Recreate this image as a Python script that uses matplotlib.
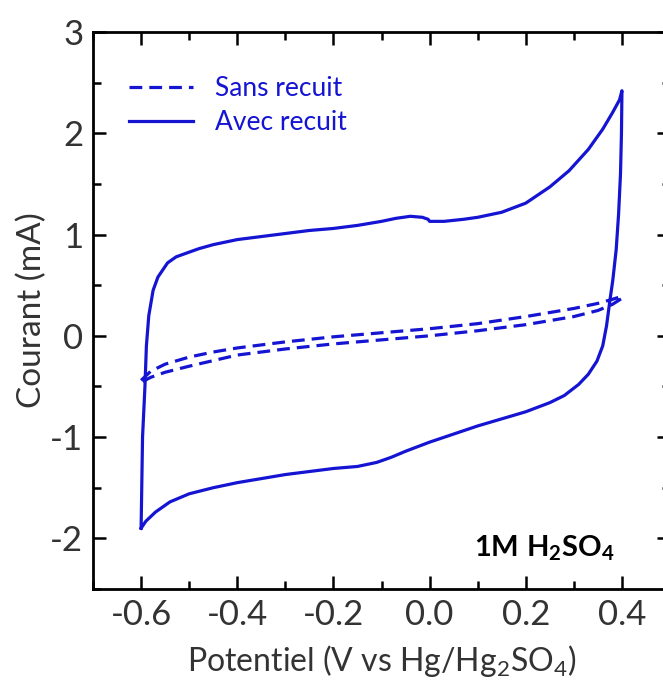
import matplotlib
matplotlib.use('Agg')
import matplotlib.pyplot as plt
from matplotlib.ticker import MultipleLocator, FixedLocator

plt.rcParams['font.family'] = ['Lato', 'DejaVu Sans']
plt.rcParams['mathtext.fontset'] = 'custom'
plt.rcParams['mathtext.rm'] = 'Lato'
plt.rcParams['mathtext.it'] = 'Lato:italic'
plt.rcParams['mathtext.bf'] = 'Lato:bold'

# Avec recuit (annealed) - forward scan then reverse scan
avec_fwd_v = [-0.600, -0.597, -0.592, -0.589, -0.584, -0.575, -0.565, -0.545, -0.527, -0.48,
              -0.45, -0.40, -0.35, -0.30, -0.25, -0.20, -0.15, -0.10, -0.07, -0.04,
              -0.015, -0.003, 0.000, 0.03, 0.07, 0.10, 0.15, 0.20, 0.25, 0.29,
              0.33, 0.36, 0.38, 0.395, 0.400]
avec_fwd_i = [-1.90, -1.00, -0.50, -0.10, 0.20, 0.45, 0.58, 0.72, 0.78, 0.86,
              0.90, 0.95, 0.98, 1.01, 1.04, 1.06, 1.09, 1.13, 1.16, 1.18,
              1.17, 1.15, 1.13, 1.13, 1.15, 1.17, 1.22, 1.31, 1.47, 1.63,
              1.84, 2.04, 2.20, 2.33, 2.42]
avec_rev_v = [0.400, 0.399, 0.397, 0.393, 0.388, 0.381, 0.375, 0.368, 0.360, 0.348,
              0.330, 0.310, 0.280, 0.250, 0.200, 0.150, 0.100, 0.050, 0.000, -0.050,
              -0.080, -0.110, -0.150, -0.200, -0.250, -0.300, -0.350, -0.400, -0.450, -0.500,
              -0.540, -0.570, -0.590, -0.600]
avec_rev_i = [2.42, 2.00, 1.60, 1.20, 0.85, 0.55, 0.35, 0.10, -0.10, -0.25,
              -0.38, -0.48, -0.59, -0.66, -0.75, -0.82, -0.89, -0.97, -1.05, -1.14,
              -1.20, -1.25, -1.29, -1.31, -1.34, -1.37, -1.41, -1.45, -1.50, -1.56,
              -1.64, -1.74, -1.83, -1.90]

# Sans recuit (as deposited)
sans_fwd_v = [-0.60, -0.58, -0.55, -0.50, -0.45, -0.40, -0.30, -0.20, -0.10, 0.00,
              0.10, 0.20, 0.30, 0.35, 0.38, 0.40]
sans_fwd_i = [-0.44, -0.35, -0.28, -0.21, -0.16, -0.12, -0.06, -0.01, 0.03, 0.07,
              0.12, 0.19, 0.27, 0.32, 0.36, 0.39]
sans_rev_v = [0.40, 0.38, 0.35, 0.30, 0.20, 0.10, 0.00, -0.10, -0.20, -0.30,
              -0.40, -0.50, -0.55, -0.58, -0.60]
sans_rev_i = [0.37, 0.31, 0.25, 0.19, 0.11, 0.05, 0.00, -0.04, -0.08, -0.13,
              -0.19, -0.30, -0.36, -0.41, -0.46]

blue = '#1414d2'
grey = '#333333'

fig = plt.figure(figsize=(6.63, 6.86), dpi=100)
ax = fig.add_axes([0.1403, 0.1414, 0.8703, 0.812])

ax.plot(sans_fwd_v + sans_rev_v, sans_fwd_i + sans_rev_i, color=blue, lw=2.3,
        linestyle=(0, (4, 2.2)), label='Sans recuit')
ax.plot(avec_fwd_v + avec_rev_v, avec_fwd_i + avec_rev_i, color=blue, lw=2.3,
        label='Avec recuit')

ax.set_xlim(-0.7, 0.5)
ax.set_ylim(-2.5, 3)
ax.xaxis.set_major_locator(FixedLocator([-0.6, -0.4, -0.2, 0.0, 0.2, 0.4]))
ax.xaxis.set_minor_locator(MultipleLocator(0.1))
ax.yaxis.set_minor_locator(MultipleLocator(0.5))
ax.set_xticklabels(['-0.6', '-0.4', '-0.2', '0.0', '0.2', '0.4'])
ax.set_yticks([-2, -1, 0, 1, 2, 3])
ax.set_yticklabels(['-2', '-1', '0', '1', '2', '3'])

ax.tick_params(which='both', direction='in', top=True, right=True, width=1.8,
               colors='black', labelcolor=grey, labelsize=25)
ax.tick_params(which='major', length=9.5, pad=7)
ax.tick_params(which='minor', length=5.5)
for s in ax.spines.values():
    s.set_linewidth(2.0)

ax.set_xlabel('Potentiel (V vs Hg/Hg$_2$SO$_4$)', fontsize=23, color=grey, labelpad=9)
ax.set_ylabel('Courant (mA)', fontsize=24, color=grey, labelpad=2)

ax.text(0.385, -2.1, r'$\mathbf{1M\ H_2SO_4}$', fontsize=21, ha='right', va='center',
        color='black')

leg = ax.legend(loc='upper left', bbox_to_anchor=(0.04, 0.945), frameon=False,
                fontsize=19, handlelength=2.4, handletextpad=0.85, labelspacing=0.35,
                borderpad=0, labelcolor=blue)

fig.savefig('out.png', dpi=100)
